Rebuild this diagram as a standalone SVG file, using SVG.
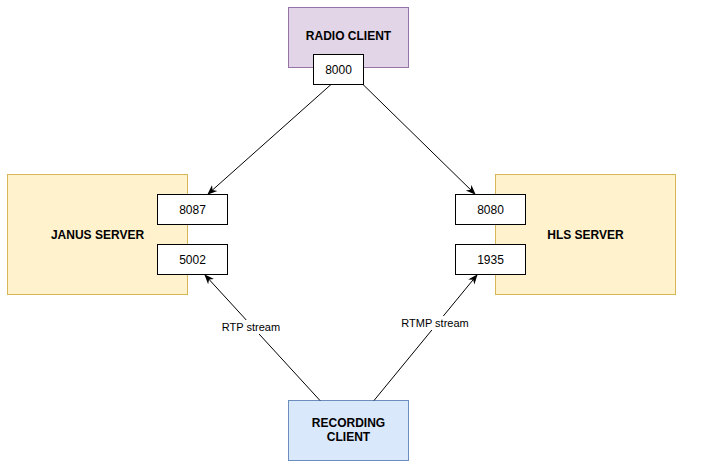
<svg xmlns="http://www.w3.org/2000/svg" width="723" height="469" viewBox="0 0 723 469">
<defs>
<style>
text{font-family:"Liberation Sans",Arial,sans-serif;text-anchor:middle;dominant-baseline:central;fill:#000}
.b{font-weight:bold;font-size:12px}
.p{font-size:12px}
.l{font-size:11px}
.port{fill:#fff;stroke:#000;stroke-width:1}
.e{stroke:#000;stroke-width:1;fill:none;marker-end:url(#ah)}
.lb{fill:#fff}
</style>
<marker id="ah" markerWidth="10" markerHeight="10" refX="9" refY="5" orient="auto" markerUnits="userSpaceOnUse" viewBox="0 0 10 10">
<path d="M0,1 L10,5 L0,9 L3,5 Z" fill="#000"/>
</marker>
</defs>
<rect width="723" height="469" fill="#fff"/>
<g id="radio-client">
<rect x="288.5" y="7.5" width="120" height="60" fill="#e1d5e7" stroke="#9673a6"/>
<text class="b" x="348.5" y="36">RADIO CLIENT</text>
</g>
<g id="port-8000">
<rect class="port" x="313.5" y="54.5" width="50" height="30"/>
<text class="p" x="338.5" y="69.5">8000</text>
</g>
<g id="janus-server">
<rect x="7.5" y="174.5" width="180" height="120" fill="#fff2cc" stroke="#d6b656"/>
<text class="b" x="97.5" y="234.5">JANUS SERVER</text>
</g>
<g id="port-8087">
<rect class="port" x="157.5" y="194.5" width="70" height="30"/>
<text class="p" x="192.5" y="209.5">8087</text>
</g>
<g id="port-5002">
<rect class="port" x="157.5" y="244.5" width="70" height="30"/>
<text class="p" x="192.5" y="259.5">5002</text>
</g>
<g id="hls-server">
<rect x="495.5" y="174.5" width="180" height="120" fill="#fff2cc" stroke="#d6b656"/>
<text class="b" x="585.5" y="234.5">HLS SERVER</text>
</g>
<g id="port-8080">
<rect class="port" x="455.5" y="194.5" width="70" height="30"/>
<text class="p" x="490.5" y="209.5">8080</text>
</g>
<g id="port-1935">
<rect class="port" x="455.5" y="244.5" width="70" height="30"/>
<text class="p" x="490.5" y="259.5">1935</text>
</g>
<g id="recording-client">
<rect x="288.5" y="400.5" width="120" height="60" fill="#dae8fc" stroke="#6c8ebf"/>
<text class="b" x="348.5" y="422.5">RECORDING</text>
<text class="b" x="348.5" y="436.5">CLIENT</text>
</g>
<g id="connectors">
<line class="e" x1="331" y1="84.5" x2="208" y2="194"/>
<line class="e" x1="363" y1="84.5" x2="475" y2="194"/>
<line class="e" x1="320" y1="400.5" x2="205" y2="275"/>
<line class="e" x1="374" y1="400.5" x2="477" y2="275"/>
<rect class="lb" x="221" y="320" width="60" height="14"/>
<text class="l" x="251" y="327">RTP stream</text>
<rect class="lb" x="401" y="316" width="68" height="14"/>
<text class="l" x="435" y="323">RTMP stream</text>
</g>
</svg>
